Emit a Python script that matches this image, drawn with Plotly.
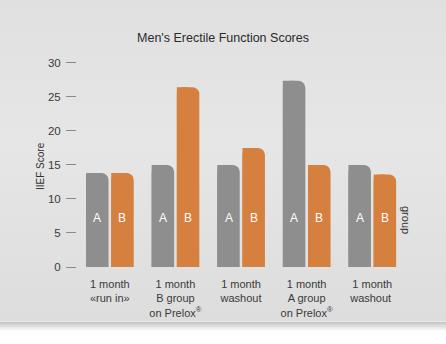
import plotly.graph_objects as go
import base64

categories = ["1 month<br>«run in»", "1 month<br>B group<br>on Prelox<sup>®</sup>",
              "1 month<br>washout", "1 month<br>A group<br>on Prelox<sup>®</sup>",
              "1 month<br>washout "]
group_a = [13.8, 15.0, 15.0, 27.35, 15.0]
group_b = [13.8, 26.4, 17.5, 15.0, 13.6]
series_names = ["A", "B"]
y_ticks = [0, 5, 10, 15, 20, 25, 30]

GRAY = "#8e8e8e"
ORANGE = "#d5803f"
FONT = "Liberation Sans, Arial, sans-serif"

W, H = 446, 344
ML, MR, MT, MB = 77, 41, 56, 77
PW, PH = W - ML - MR, H - MT - MB

bw = 0.343
offs = {"A": -0.362, "B": 0.022}

fig = go.Figure()
for name, vals, col in [("A", group_a, GRAY), ("B", group_b, ORANGE)]:
    fig.add_trace(go.Bar(x=categories, y=vals, name=name, marker_color=col,
                         marker_line_width=0, marker_cornerradius=7,
                         width=bw, offset=offs[name], hoverinfo="skip"))
    fig.add_trace(go.Bar(x=categories, y=vals, name=name, marker_color=col,
                         marker_line_width=0, width=bw / 2, offset=offs[name],
                         hoverinfo="skip", showlegend=False))

annotations = []
for i in range(len(categories)):
    for name in series_names:
        annotations.append(dict(x=i + offs[name] + bw / 2, y=7.2, xref="x", yref="y",
                                text=name, showarrow=False, xanchor="center", yanchor="middle",
                                font=dict(family=FONT, size=12, color="white")))

annotations.append(dict(x=(40 - ML) / PW, y=(MT + PH - 166) / PH, xref="paper", yref="paper",
                        text="IIEF Score", textangle=-90, showarrow=False,
                        xanchor="center", yanchor="middle",
                        font=dict(family=FONT, size=10, color="#333333")))
annotations.append(dict(x=(406 - ML) / PW, y=(MT + PH - 220) / PH, xref="paper", yref="paper",
                        text="group", textangle=90, showarrow=False,
                        xanchor="center", yanchor="middle",
                        font=dict(family=FONT, size=11, color="#333333")))

svg = f'''<svg xmlns="http://www.w3.org/2000/svg" width="{W}" height="{H}" viewBox="0 0 {W} {H}">
<defs>
<linearGradient id="g" x1="0" y1="0" x2="0" y2="1">
<stop offset="0" stop-color="#e0e0e0"/>
<stop offset="0.45" stop-color="#e6e6e6"/>
<stop offset="1" stop-color="#dddddd"/>
</linearGradient>
<linearGradient id="s" x1="0" y1="0" x2="0" y2="1">
<stop offset="0" stop-color="#c4c4c4"/>
<stop offset="1" stop-color="#ffffff"/>
</linearGradient>
</defs>
<rect x="0" y="0" width="{W}" height="{H}" fill="#ffffff"/>
<rect x="0" y="0" width="{W}" height="322" fill="url(#g)"/>
<rect x="0" y="321" width="{W}" height="1" fill="#e8e8e8"/>
<rect x="0" y="322" width="{W}" height="9" fill="url(#s)"/>
</svg>'''
src = "data:image/svg+xml;base64," + base64.b64encode(svg.encode()).decode()

fig.update_layout(
    width=W, height=H, margin=dict(l=ML, r=MR, t=MT, b=MB),
    paper_bgcolor="white", plot_bgcolor="rgba(0,0,0,0)",
    barmode="overlay", showlegend=False,
    title=dict(text="Men's Erectile Function Scores", x=223 / W, xanchor="center",
               y=1 - 38 / H, yanchor="middle", xref="container",
               font=dict(family=FONT, size=12.5, color="#2a2a2a")),
    images=[dict(source=src, xref="paper", yref="paper", x=-ML / PW, y=(MT + PH) / PH,
                 sizex=W / PW, sizey=H / PH, xanchor="left", yanchor="top",
                 sizing="stretch", layer="below")],
    annotations=annotations,
)
fig.update_xaxes(type="category", showgrid=False, showline=False, zeroline=False,
                 ticks="", tickfont=dict(family=FONT, size=11, color="#3a3a3a"),
                 ticklabelstandoff=9, range=[-0.5, 4.5])
fig.update_yaxes(range=[0, 31], tickvals=y_ticks, showgrid=False, showline=False,
                 zeroline=False, ticks="outside", ticklen=10, tickwidth=1,
                 tickcolor="#8a8a8a", ticklabelstandoff=3,
                 tickfont=dict(family=FONT, size=11.5, color="#3a3a3a"))

fig.write_html("out.html")
